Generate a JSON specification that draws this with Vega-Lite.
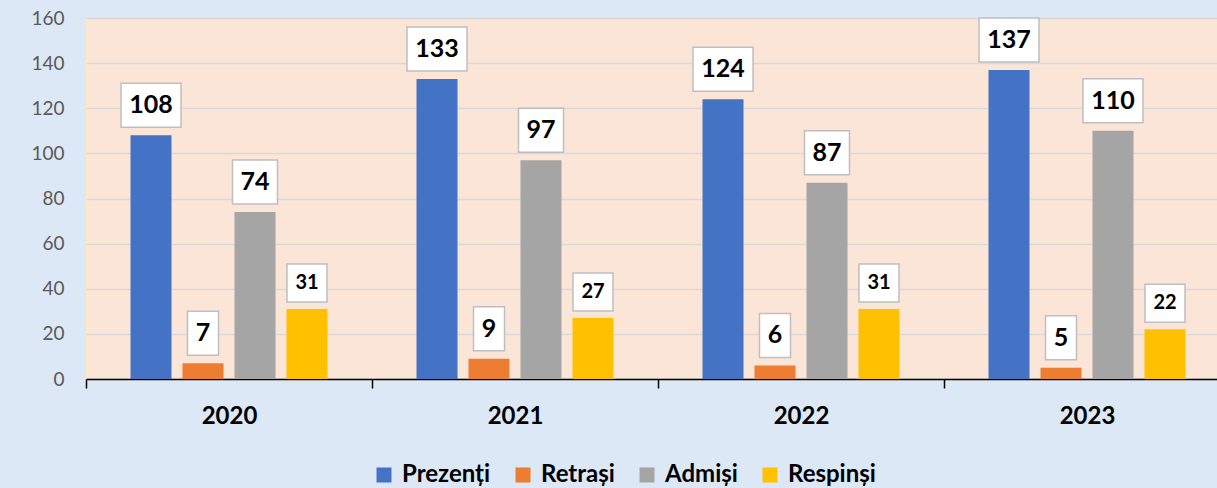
{
  "$schema": "https://vega.github.io/schema/vega-lite/v6.json",
  "autosize": {"type": "none"},
  "padding": {"left": 86, "top": 18, "right": 0, "bottom": 109},
  "width": 1131,
  "height": 361,
  "background": "#dce8f6",
  "config": {
    "font": "Lato",
    "view": {"fill": "#fbe5d6", "stroke": "#fdebc0", "strokeWidth": 1}
  },
  "data": {
    "values": [
      {"an": "2020", "serie": "Prezenți", "valoare": 108},
      {"an": "2020", "serie": "Retrași", "valoare": 7},
      {"an": "2020", "serie": "Admiși", "valoare": 74},
      {"an": "2020", "serie": "Respinși", "valoare": 31},
      {"an": "2021", "serie": "Prezenți", "valoare": 133},
      {"an": "2021", "serie": "Retrași", "valoare": 9},
      {"an": "2021", "serie": "Admiși", "valoare": 97},
      {"an": "2021", "serie": "Respinși", "valoare": 27},
      {"an": "2022", "serie": "Prezenți", "valoare": 124},
      {"an": "2022", "serie": "Retrași", "valoare": 6},
      {"an": "2022", "serie": "Admiși", "valoare": 87},
      {"an": "2022", "serie": "Respinși", "valoare": 31},
      {"an": "2023", "serie": "Prezenți", "valoare": 137},
      {"an": "2023", "serie": "Retrași", "valoare": 5},
      {"an": "2023", "serie": "Admiși", "valoare": 110},
      {"an": "2023", "serie": "Respinși", "valoare": 22}
    ]
  },
  "encoding": {
    "x": {
      "field": "an", "type": "nominal", "title": null,
      "scale": {"paddingInner": 0, "paddingOuter": 0, "range": [0, 1144]},
      "axis": {
        "tickBand": "extent", "domainColor": "#000000", "domainWidth": 1.5,
        "tickColor": "#000000", "tickWidth": 1.5, "tickSize": 9,
        "labelAngle": 0, "labelFontSize": 24, "labelFontWeight": "bold",
        "labelColor": "#000000", "labelPadding": 16, "grid": false
      }
    },
    "xOffset": {
      "field": "serie", "type": "nominal",
      "sort": ["Prezenți", "Retrași", "Admiși", "Respinși"],
      "scale": {"paddingInner": 0.2115, "paddingOuter": 0.856}
    },
    "y": {
      "field": "valoare", "type": "quantitative", "title": null,
      "scale": {"domain": [0, 160], "nice": false},
      "axis": {
        "values": [0, 20, 40, 60, 80, 100, 120, 140, 160],
        "domain": false, "ticks": false, "labelPadding": 22,
        "labelFontSize": 19, "labelColor": "#595959",
        "gridColor": "#d9d9d9", "gridWidth": 1.5
      }
    }
  },
  "layer": [
    {
      "mark": {"type": "bar"},
      "encoding": {
        "color": {
          "field": "serie", "type": "nominal",
          "scale": {
            "domain": ["Prezenți", "Retrași", "Admiși", "Respinși"],
            "range": ["#4472c4", "#ed7d31", "#a5a5a5", "#ffc000"]
          },
          "legend": {
            "title": null, "orient": "none", "direction": "horizontal",
            "legendX": 286, "legendY": 445,
            "symbolType": "square", "symbolSize": 225, "symbolStrokeWidth": 0,
            "symbolOpacity": 1, "labelFontSize": 24, "labelFontWeight": "bold",
            "labelColor": "#000000", "labelOffset": 6, "columnPadding": 20,
            "labelLimit": 300
          }
        }
      }
    },
    {
      "transform": [{"filter": "datum.serie != 'Respinși' && datum.valoare >= 100"}],
      "mark": {"type": "point", "shape": "M-30,-52H30V-8H-30Z", "size": 4, "filled": true, "fill": "#ffffff", "fillOpacity": 1, "opacity": 1, "stroke": "#bfbfbf", "strokeWidth": 1.5}
    },
    {
      "transform": [{"filter": "datum.serie != 'Respinși' && datum.valoare >= 10 && datum.valoare < 100"}],
      "mark": {"type": "point", "shape": "M-22.5,-52H22.5V-8H-22.5Z", "size": 4, "filled": true, "fill": "#ffffff", "fillOpacity": 1, "opacity": 1, "stroke": "#bfbfbf", "strokeWidth": 1.5}
    },
    {
      "transform": [{"filter": "datum.serie != 'Respinși' && datum.valoare < 10"}],
      "mark": {"type": "point", "shape": "M-15.5,-52H15.5V-8H-15.5Z", "size": 4, "filled": true, "fill": "#ffffff", "fillOpacity": 1, "opacity": 1, "stroke": "#bfbfbf", "strokeWidth": 1.5}
    },
    {
      "transform": [{"filter": "datum.serie == 'Respinși'"}],
      "mark": {"type": "point", "shape": "M-20,-45H20V-7H-20Z", "size": 4, "filled": true, "fill": "#ffffff", "fillOpacity": 1, "opacity": 1, "stroke": "#bfbfbf", "strokeWidth": 1.5}
    },
    {
      "transform": [{"filter": "datum.serie != 'Respinși'"}],
      "mark": {"type": "text", "dy": -30, "baseline": "middle", "align": "center", "fontSize": 25, "fontWeight": "bold", "color": "#000000"},
      "encoding": {"text": {"field": "valoare", "type": "quantitative"}}
    },
    {
      "transform": [{"filter": "datum.serie == 'Respinși'"}],
      "mark": {"type": "text", "dy": -26, "baseline": "middle", "align": "center", "fontSize": 20, "fontWeight": "bold", "color": "#000000"},
      "encoding": {"text": {"field": "valoare", "type": "quantitative"}}
    }
  ]
}
